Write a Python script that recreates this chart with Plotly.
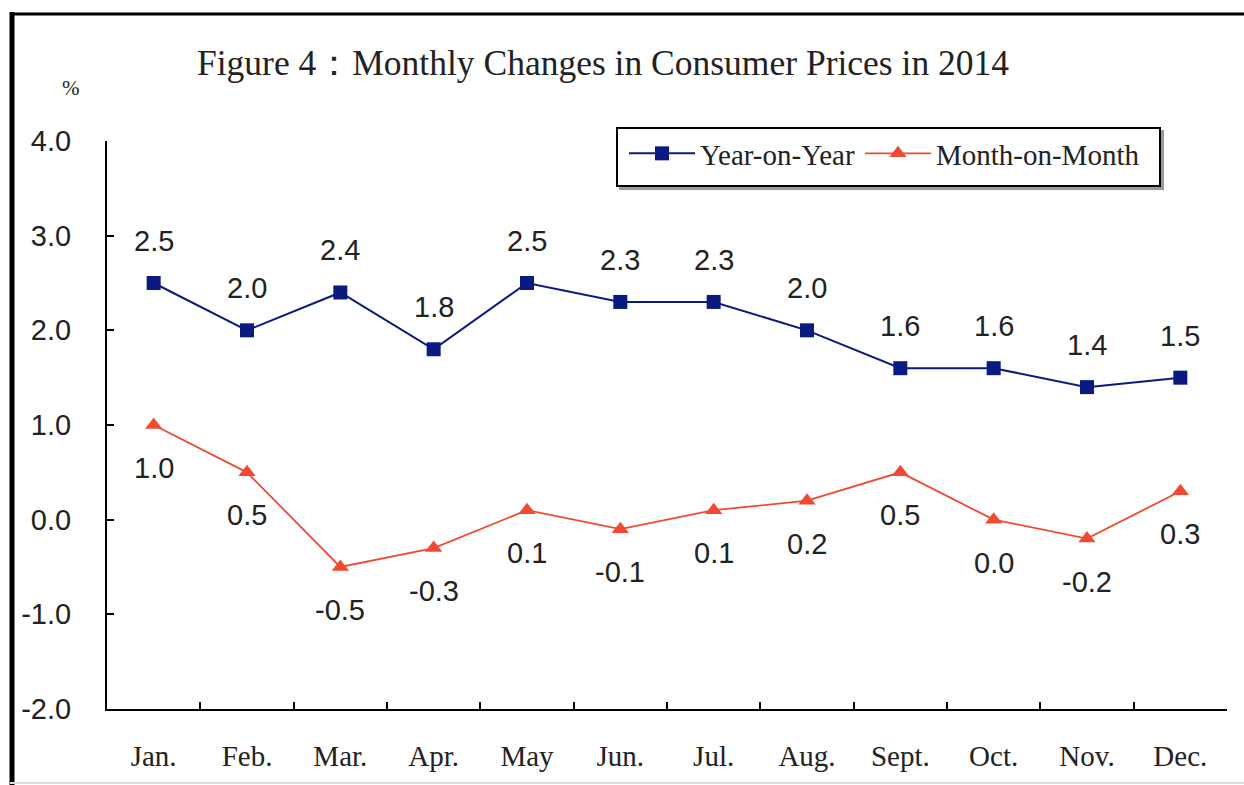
import plotly.graph_objects as go

months = ["Jan.", "Feb.", "Mar.", "Apr.", "May", "Jun.", "Jul.", "Aug.", "Sept.", "Oct.", "Nov.", "Dec."]
yoy = [2.5, 2.0, 2.4, 1.8, 2.5, 2.3, 2.3, 2.0, 1.6, 1.6, 1.4, 1.5]
mom = [1.0, 0.5, -0.5, -0.3, 0.1, -0.1, 0.1, 0.2, 0.5, 0.0, -0.2, 0.3]
y_ticks = [-2.0, -1.0, 0.0, 1.0, 2.0, 3.0, 4.0]

W, H = 1244, 785
ML, MR, MT, MB = 107, 17, 141, 76
PW, PH = W - ML - MR, H - MT - MB

def px_x(p):
    return (p - ML) / PW

def px_y(p):
    return (H - MB - p) / PH

NAVY = "#0b1a80"
RED = "#f04a32"
SANS = "Liberation Sans, Arial, sans-serif"
SERIF = "Liberation Serif, Times New Roman, serif"

fig = go.Figure()
fig.add_trace(go.Scatter(
    x=months, y=yoy, mode="lines+markers", name="Year-on-Year",
    line=dict(color=NAVY, width=2),
    marker=dict(symbol="square", size=14, color=NAVY),
))
fig.add_trace(go.Scatter(
    x=months, y=mom, mode="lines+markers", name="Month-on-Month",
    line=dict(color=RED, width=1.8),
    marker=dict(symbol="triangle-up", size=15, color=RED),
))

annotations = []
for m, v in zip(months, yoy):
    annotations.append(dict(x=m, y=v, text=f"{v:.1f}", showarrow=False,
                            yshift=42, font=dict(family=SANS, size=29, color="#222")))
for m, v in zip(months, mom):
    annotations.append(dict(x=m, y=v, text=f"{v:.1f}", showarrow=False,
                            yshift=-43, font=dict(family=SANS, size=29, color="#222")))
annotations.append(dict(xref="paper", yref="paper", x=px_x(71), y=px_y(88),
                        xanchor="center", yanchor="middle",
                        text="%", showarrow=False,
                        font=dict(family=SERIF, size=21, color="#222")))

shapes = [
    # image frame: left thick line and top line
    dict(type="line", xref="paper", yref="paper",
         x0=px_x(12), x1=px_x(12), y0=px_y(12), y1=px_y(786),
         line=dict(color="black", width=5)),
    dict(type="line", xref="paper", yref="paper",
         x0=px_x(10), x1=px_x(1246), y0=px_y(14), y1=px_y(14),
         line=dict(color="black", width=3)),
    dict(type="line", xref="paper", yref="paper",
         x0=px_x(10), x1=px_x(1246), y0=px_y(783), y1=px_y(783),
         line=dict(color="#dddddd", width=2)),
    # legend shadow and box
    dict(type="rect", xref="paper", yref="paper",
         x0=px_x(620), x1=px_x(1163), y0=px_y(189), y1=px_y(131),
         line=dict(color="#999999", width=2), fillcolor="#999999", layer="below"),
    dict(type="rect", xref="paper", yref="paper",
         x0=px_x(617), x1=px_x(1160), y0=px_y(186), y1=px_y(128),
         line=dict(color="black", width=2), fillcolor="white", layer="below"),
]

fig.update_layout(
    width=W, height=H,
    margin=dict(l=ML, r=MR, t=MT, b=MB, autoexpand=False),
    paper_bgcolor="white", plot_bgcolor="white",
    title=dict(text="Figure 4：Monthly Changes in Consumer Prices in 2014",
               x=603 / W, xanchor="center", y=1 - 63 / H, yanchor="middle",
               font=dict(family=SERIF, size=35.5, color="#222")),
    showlegend=True,
    legend=dict(orientation="h", x=px_x(624), y=px_y(128), xanchor="left", yanchor="top",
                borderwidth=0, bgcolor="rgba(0,0,0,0)",
                font=dict(family=SERIF, size=29, color="#222"),
                itemwidth=66),
    xaxis=dict(type="category", range=[-0.5, 11.5], showgrid=False,
               showline=True, linecolor="black", linewidth=2,
               ticks="inside", ticklen=7, tickwidth=2, tickcolor="black",
               tickson="boundaries", ticklabelstandoff=20,
               tickfont=dict(family=SERIF, size=29, color="#222")),
    yaxis=dict(range=[-2, 4], tickvals=y_ticks, ticktext=[f"{v:.1f}" for v in y_ticks],
               showgrid=False, zeroline=False,
               showline=True, linecolor="black", linewidth=2,
               ticks="inside", ticklen=7, tickwidth=2, tickcolor="black",
               ticklabelstandoff=28,
               tickfont=dict(family=SANS, size=29, color="#222")),
    annotations=annotations,
    shapes=shapes,
)

fig.write_html("out.html", config={"displayModeBar": False},
               post_script="document.body.style.margin='0px';")
